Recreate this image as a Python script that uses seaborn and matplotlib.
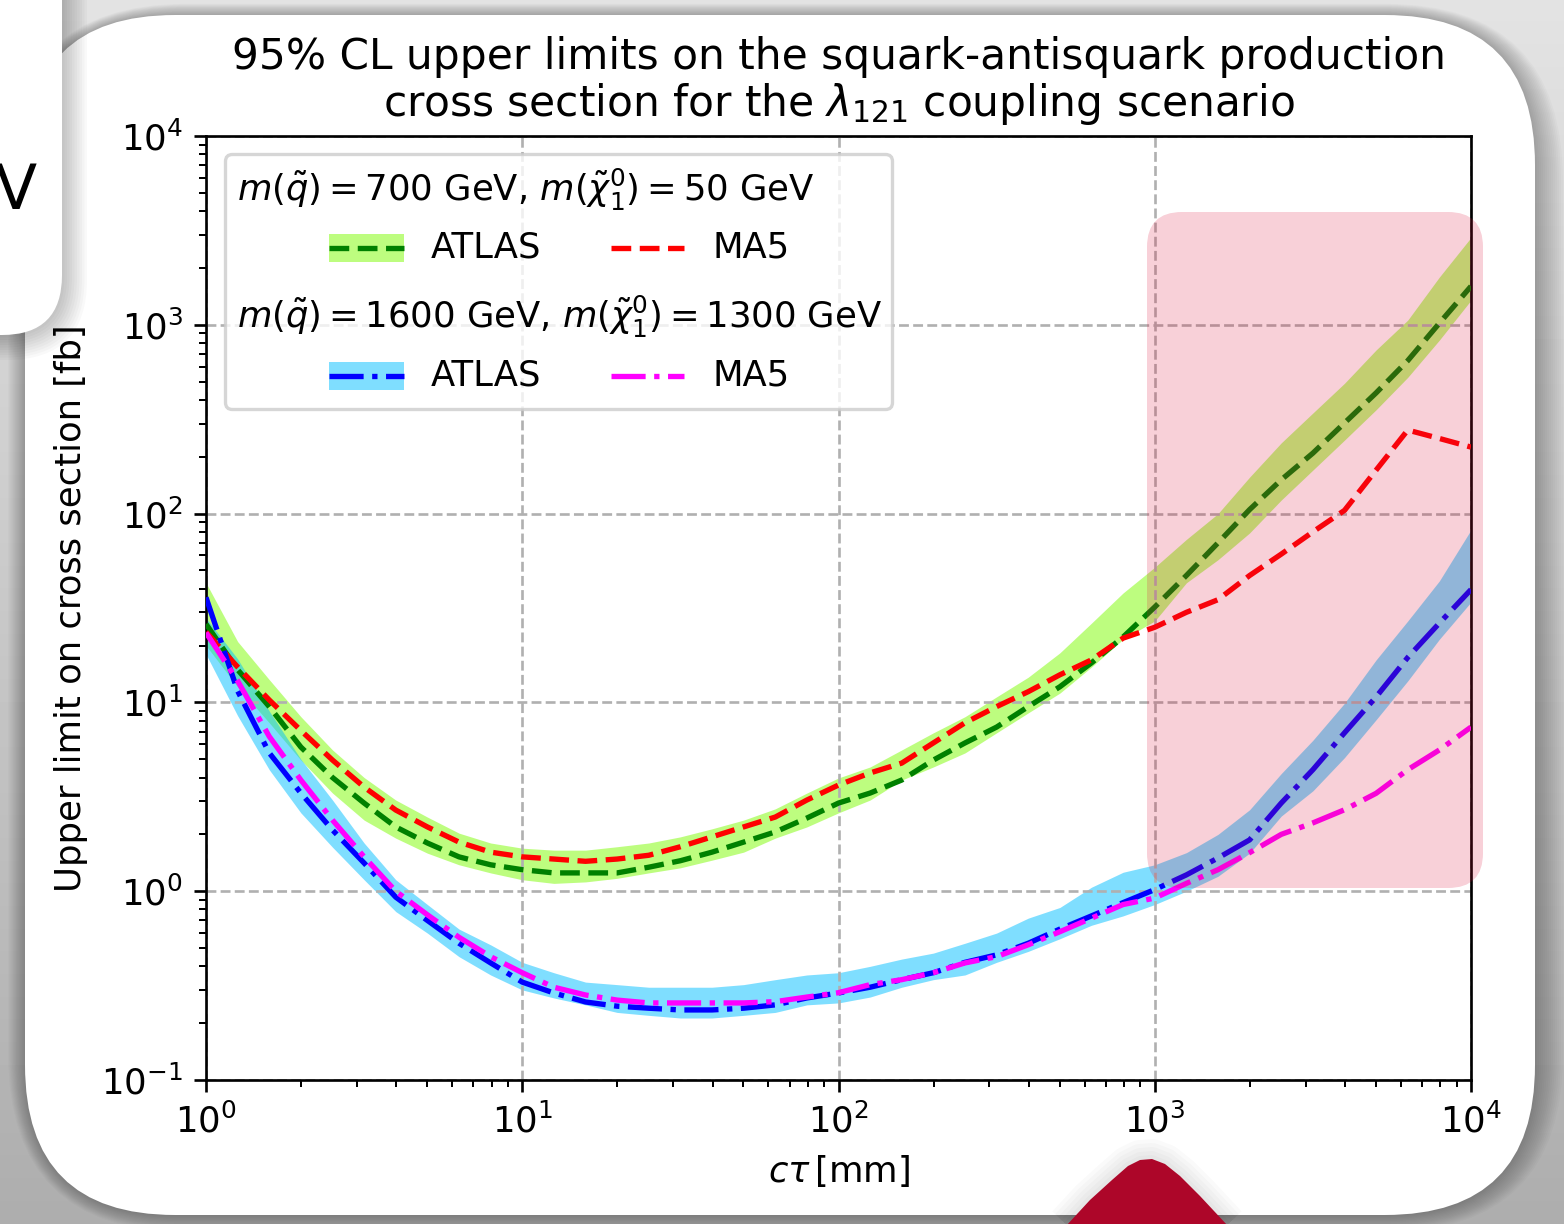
import numpy as np
import matplotlib
matplotlib.use("Agg")
import matplotlib.pyplot as plt
import seaborn as sns
from matplotlib.patches import FancyBboxPatch, Rectangle, Polygon
from matplotlib.lines import Line2D
from matplotlib.text import Text
from matplotlib.offsetbox import AnchoredOffsetbox, DrawingArea

# ---------------- data ----------------
ctau = [1, 1.259, 1.585, 1.995, 2.512, 3.162, 3.981, 5.012, 6.310, 7.943,
        10, 12.59, 15.85, 19.95, 25.12, 31.62, 39.81, 50.12, 63.10, 79.43,
        100, 125.9, 158.5, 199.5, 251.2, 316.2, 398.1, 501.2, 631.0, 794.3,
        1000, 1259, 1585, 1995, 2512, 3162, 3981, 5012, 6310, 7943, 10000]

atlas700 = [26, 14.9, 9.5, 5.8, 4.0, 2.93, 2.19, 1.80, 1.52, 1.38,
             1.30, 1.25, 1.25, 1.25, 1.34, 1.45, 1.61, 1.82, 2.06, 2.44,
             2.93, 3.31, 3.88, 4.95, 6.1, 7.4, 9.5, 12.1, 16.2, 22.2,
             32, 47, 70, 105, 151, 209, 302, 436, 646, 1020, 1600]
atlas700_hi = [43, 21, 13.2, 8.4, 5.6, 4.0, 3.04, 2.47, 2.03, 1.80,
               1.69, 1.65, 1.65, 1.72, 1.80, 1.94, 2.14, 2.38, 2.73, 3.31,
               3.98, 4.55, 5.6, 6.9, 8.4, 10.7, 13.6, 18.3, 26.3, 38,
               52, 73, 100, 156, 237, 341, 490, 736, 1059, 1790, 2900]
atlas700_lo = [20, 12.1, 7.8, 4.95, 3.31, 2.38, 1.91, 1.59, 1.38, 1.25,
               1.15, 1.10, 1.12, 1.17, 1.25, 1.33, 1.46, 1.61, 1.91, 2.19,
               2.6, 3.04, 3.88, 4.55, 5.4, 6.9, 8.8, 11.2, 15.4, 21.6,
               27, 43, 57, 79, 118, 170, 245, 355, 527, 830, 1350]
ma5_700 = [23.6, 15.4, 10.3, 7.1, 4.95, 3.56, 2.69, 2.19, 1.82, 1.61,
           1.52, 1.48, 1.44, 1.48, 1.55, 1.72, 1.94, 2.19, 2.47, 3.04,
           3.65, 4.23, 4.77, 6.1, 7.8, 9.5, 11.4, 14.0, 16.8, 21.9,
           25, 30, 35, 47, 61, 80, 104, 170, 277, 250, 225]

atlas1600 = [36, 11.5, 5.4, 3.31, 2.11, 1.41, 0.93, 0.70, 0.53, 0.417,
             0.33, 0.289, 0.259, 0.246, 0.24, 0.235, 0.235, 0.24, 0.25, 0.272,
             0.289, 0.31, 0.34, 0.37, 0.42, 0.46, 0.53, 0.63, 0.74, 0.87,
             1.02, 1.22, 1.5, 1.87, 2.93, 4.4, 6.9, 10.7, 17.3, 26.3, 39.6]
atlas1600_hi = [28, 17, 9.0, 5.0, 3.04, 1.8, 1.15, 0.85, 0.63, 0.52,
                0.42, 0.37, 0.33, 0.32, 0.31, 0.31, 0.31, 0.32, 0.34, 0.36,
                0.37, 0.40, 0.437, 0.47, 0.53, 0.60, 0.72, 0.82, 1.05, 1.26,
                1.38, 1.6, 2.0, 2.7, 4.2, 6.3, 9.9, 16.8, 27, 44, 82]
atlas1600_lo = [18, 8.5, 4.4, 2.6, 1.71, 1.15, 0.78, 0.60, 0.45, 0.36,
                0.30, 0.272, 0.25, 0.228, 0.22, 0.213, 0.213, 0.22, 0.228, 0.25,
                0.256, 0.275, 0.31, 0.34, 0.36, 0.42, 0.48, 0.56, 0.66, 0.74,
                0.85, 1.0, 1.2, 1.59, 2.5, 3.4, 5.1, 8.1, 13, 21.6, 34]
ma5_1600 = [23.4, 13, 6.6, 3.88, 2.38, 1.52, 1.0, 0.75, 0.57, 0.45,
            0.37, 0.31, 0.282, 0.265, 0.256, 0.256, 0.256, 0.256, 0.26, 0.275,
            0.29, 0.32, 0.34, 0.37, 0.417, 0.45, 0.52, 0.61, 0.72, 0.85,
            0.92, 1.1, 1.3, 1.6, 2.0, 2.3, 2.7, 3.3, 4.4, 5.6, 7.4]

title = ("95% CL upper limits on the squark-antisquark production\n"
         "cross section for the $\\lambda_{121}$ coupling scenario")
header1 = r"$m(\tilde{q}) = 700$ GeV, $m(\tilde{\chi}_1^0) = 50$ GeV"
header2 = r"$m(\tilde{q}) = 1600$ GeV, $m(\tilde{\chi}_1^0) = 1300$ GeV"

# ---------------- figure ----------------
W, H = 1564, 1224
DPI = 240
FS = 10.6
fig = plt.figure(figsize=(W / DPI, H / DPI), dpi=DPI)

# background (screenshot decoration)
bg = fig.add_axes([0, 0, 1, 1], zorder=-10)
bg.set_xlim(0, W)
bg.set_ylim(H, 0)
bg.axis("off")
grad = np.linspace(0.89, 0.68, 256)[:, None]
bg.imshow(np.repeat(grad, 2, axis=1), cmap="gray", vmin=0, vmax=1,
          extent=(0, W, H, 0), aspect="auto", interpolation="bicubic")


def rbox(x0, y0, x1, y1, r, **kw):
    return FancyBboxPatch((x0, y0), x1 - x0, y1 - y0,
                          boxstyle=f"round,pad=0,rounding_size={r}", **kw)


for i in range(14, 0, -1):
    bg.add_patch(rbox(25 - i * 1.2, 15 - i * 0.8, 1535 + i * 2.0, 1215 + i * 1.2,
                      150 + i * 2, fc="black", ec="none", alpha=0.018))
bg.add_patch(rbox(25, 15, 1535, 1215, 150, fc="white", ec="none"))
for i in range(10, 0, -1):
    bg.add_patch(rbox(-300, -300, 62 + i * 2.5, 335 + i * 2.5, 60 + i * 2,
                      fc="black", ec="none", alpha=0.025))
bg.add_patch(rbox(-300, -300, 62, 335, 60, fc="white", ec="none"))
bg.text(37, 192, "V", fontsize=18.5, ha="right", va="center", color="black")

# main axes
ax = fig.add_axes([206 / W, 1 - 1080 / H, (1471 - 206) / W, (1080 - 136) / H])
ax.set_xscale("log")
ax.set_yscale("log")

ax.fill_between(ctau, atlas700_lo, atlas700_hi, color="lawngreen", alpha=0.5,
                lw=0, zorder=1)
ax.fill_between(ctau, atlas1600_lo, atlas1600_hi, color="deepskyblue", alpha=0.5,
                lw=0, zorder=1.05)

sns.lineplot(x=ctau, y=atlas700, ax=ax, color="green", linestyle="--", lw=1.6,
             zorder=3, legend=False)
sns.lineplot(x=ctau, y=ma5_700, ax=ax, color="red", linestyle="--", lw=1.6,
             zorder=3, legend=False)
sns.lineplot(x=ctau, y=atlas1600, ax=ax, color="blue", linestyle="-.", lw=1.6,
             zorder=3, legend=False)
sns.lineplot(x=ctau, y=ma5_1600, ax=ax, color="magenta", linestyle="-.", lw=1.6,
             zorder=3, legend=False)

ax.set_xlim(1, 1e4)
ax.set_ylim(0.1, 1e4)
ax.grid(True, which="major", color="#b0b0b0", ls="--", lw=0.8)
ax.set_xlabel(r"$c\tau\,$[mm]", fontsize=FS)
ax.set_ylabel("Upper limit on cross section [fb]", fontsize=FS)
ax.set_title(title, fontsize=12.7, pad=6, linespacing=1.1)
ax.tick_params(labelsize=FS)

# custom legend with section headers
pt = 0.3  # px -> pt at 240 dpi
fw, fh = (892 - 224.5) * pt, (409 - 154) * pt
da = DrawingArea(fw, fh, 0, 0)


def ycoord(py):
    return fh - (py - 154) * pt


def xcoord(px):
    return (px - 224.5) * pt


def add_text(s, px, py):
    da.add_artist(Text(xcoord(px), ycoord(py), s, fontsize=FS,
                       ha="left", va="center", color="black"))


def add_handle(px0, px1, py, lcolor, ls, band=None):
    y = ycoord(py)
    if band is not None:
        da.add_artist(Rectangle((xcoord(px0), y - 14 * pt), (px1 - px0) * pt,
                                28 * pt, fc=band, alpha=0.5, lw=0))
    da.add_artist(Line2D([xcoord(px0), xcoord(px1)], [y, y], color=lcolor,
                         ls=ls, lw=1.6))


add_text(header1, 237, 190)
add_handle(329, 404, 248, "green", "--", band="lawngreen")
add_text("ATLAS", 431, 248)
add_handle(611, 684, 248, "red", "--")
add_text("MA5", 712, 248)
add_text(header2, 237, 317)
add_handle(329, 404, 376, "blue", "-.", band="deepskyblue")
add_text("ATLAS", 431, 376)
add_handle(611, 684, 376, "magenta", "-.")
add_text("MA5", 712, 376)

ob = AnchoredOffsetbox(loc="upper left", child=da, pad=0.0, borderpad=0.0,
                       frameon=True, bbox_to_anchor=(224.5 / W, 1 - 154 / H),
                       bbox_transform=fig.transFigure, prop=dict(size=FS))
ob.patch.set_boxstyle("round,pad=0,rounding_size=0.2")
ob.patch.set_facecolor("white")
ob.patch.set_edgecolor("0.8")
ob.patch.set_alpha(0.8)
ob.patch.set_linewidth(1.0)
ax.add_artist(ob)

# overlay decorations
ov = fig.add_axes([0, 0, 1, 1], zorder=20)
ov.set_xlim(0, W)
ov.set_ylim(H, 0)
ov.axis("off")
ov.patch.set_visible(False)
ov.add_patch(rbox(1147, 212, 1483, 888, 35, fc="crimson", ec="none", alpha=0.2))

blob = [(1066, 1226), (1090, 1200), (1112, 1180), (1128, 1166), (1140, 1160),
        (1152, 1159), (1165, 1164), (1180, 1176), (1200, 1196), (1228, 1226)]
for lw in [40, 32, 24, 16, 8]:
    ov.add_patch(Polygon(blob, closed=True, fc="none", ec="black", lw=lw * 0.3,
                         alpha=0.02, joinstyle="round"))
ov.add_patch(Polygon(blob, closed=True, fc="#ad0629", ec="none"))

fig.savefig("out.png", dpi=DPI)
